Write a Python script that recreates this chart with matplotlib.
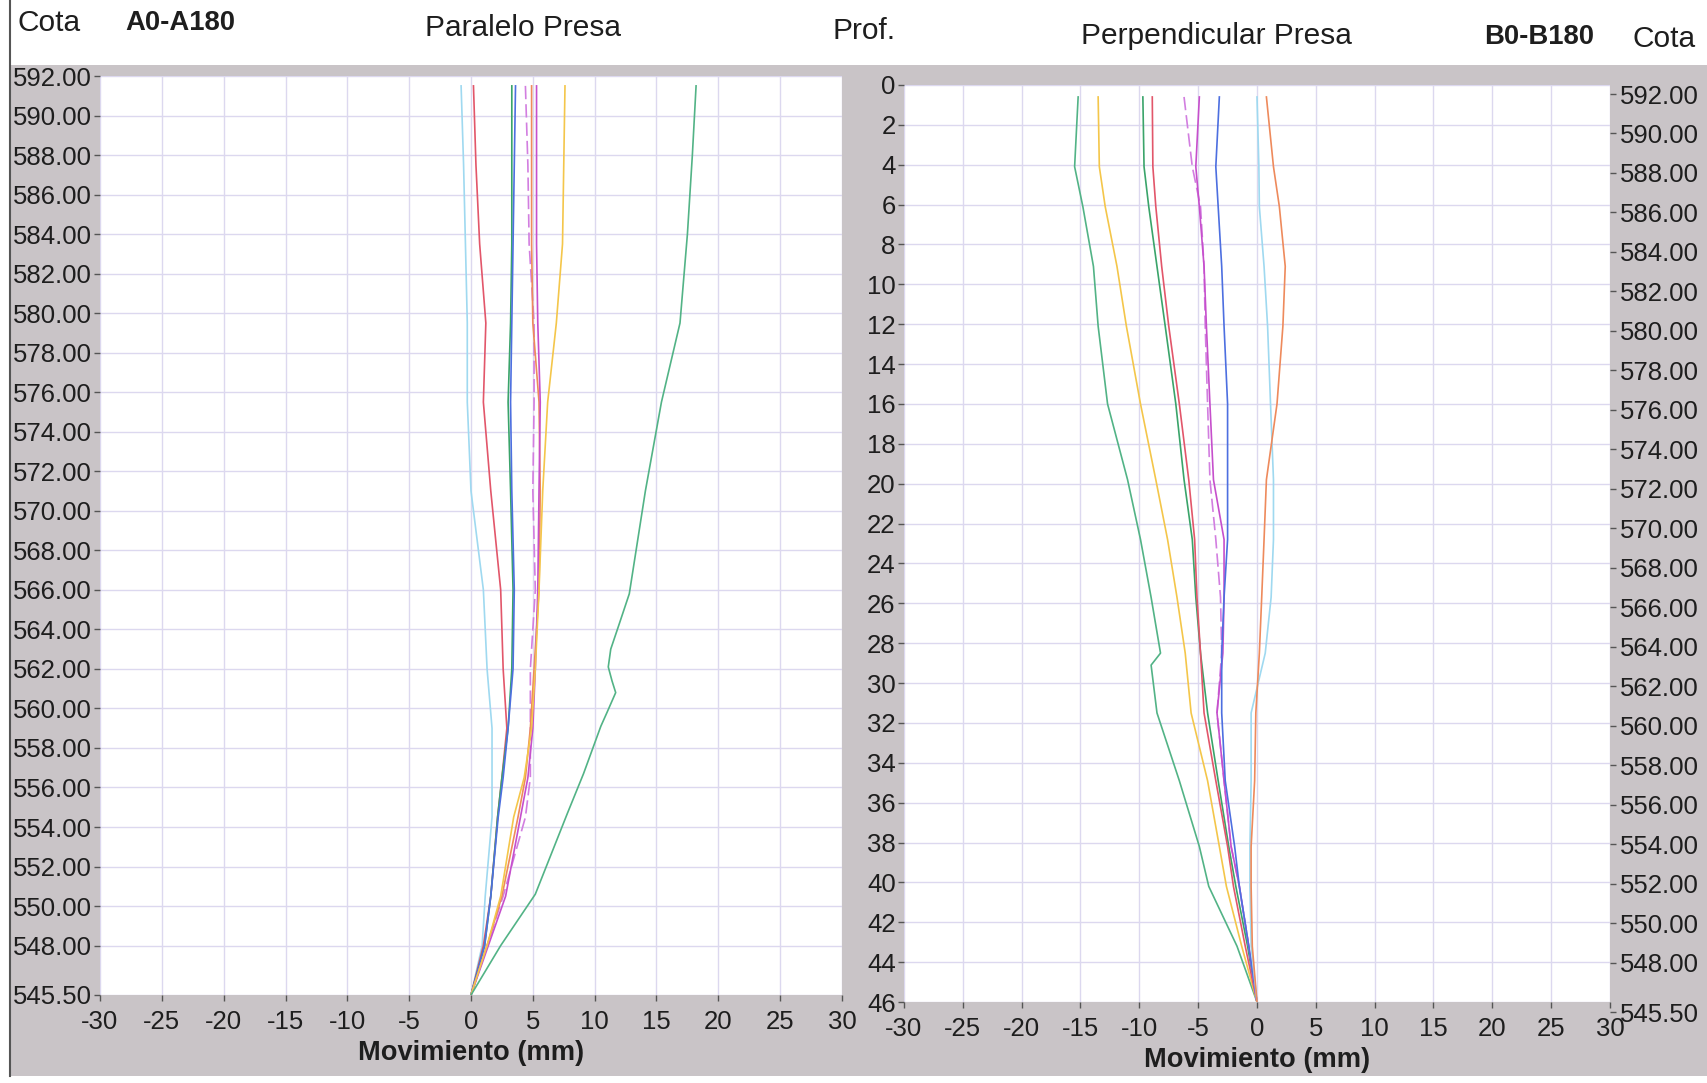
import matplotlib
matplotlib.use("Agg")
import matplotlib.pyplot as plt
from matplotlib import font_manager
from matplotlib.patches import Rectangle

# ---- data ----
# Paralelo Presa (A0-A180): movement in mm at each elevation (cota)
a_cota = [591.5, 587.5, 583.5, 579.5, 575.5, 571.0, 566.0, 562.0, 559.0, 556.5, 554.5, 550.5, 548.0, 545.5]
a_cyan = [-0.8, -0.6, -0.45, -0.3, -0.3, 0.0, 1.0, 1.3, 1.7, 1.7, 1.7, 1.15, 0.9, 0.0]
a_red = [0.2, 0.4, 0.7, 1.2, 1.0, 1.6, 2.4, 2.6, 2.9, 2.5, 2.15, 1.6, 1.0, 0.0]
a_green = [3.3, 3.3, 3.3, 3.2, 3.0, 3.2, 3.4, 3.3, 3.0, 2.5, 2.15, 1.6, 1.1, 0.0]
a_blue = [3.6, 3.5, 3.4, 3.3, 3.2, 3.3, 3.5, 3.4, 3.0, 2.6, 2.2, 1.6, 1.1, 0.0]
a_magdash = [4.4, 4.6, 4.7, 5.1, 5.1, 5.0, 5.2, 4.8, 4.8, 4.8, 4.4, 2.6, 1.3, 0.0]
a_orange = [4.9, 4.9, 4.9, 5.0, 5.5, 5.6, 5.5, 5.1, 4.8, 4.4, 3.8, 2.5, 1.3, 0.0]
a_magenta = [5.3, 5.3, 5.3, 5.4, 5.6, 5.5, 5.4, 5.2, 5.0, 4.6, 4.0, 2.8, 1.4, 0.0]
a_yellow = [7.6, 7.5, 7.4, 6.9, 6.2, 5.8, 5.5, 5.2, 4.9, 4.3, 3.45, 2.4, 1.3, 0.0]
a_sea_cota = [591.5, 588.0, 584.0, 579.5, 575.5, 571.0, 565.8, 564.3, 563.0, 562.1, 561.4,
              560.8, 559.8, 559.1, 556.7, 554.7, 550.6, 548.0, 545.5]
a_sea = [18.2, 17.9, 17.5, 16.9, 15.4, 14.1, 12.8, 12.0, 11.3, 11.1, 11.4,
         11.7, 11.0, 10.5, 9.1, 7.8, 5.2, 2.4, 0.0]

# Perpendicular Presa (B0-B180): movement in mm at each depth (prof)
b_prof = [0.6, 4.1, 6.1, 9.1, 12.1, 16.0, 19.8, 22.8, 25.7, 28.5, 31.5, 34.9, 38.2, 40.2, 43.2, 46.0]
b_yellow = [-13.5, -13.4, -12.9, -11.9, -11.1, -9.9, -8.6, -7.6, -6.8, -6.1, -5.6, -4.2, -3.2, -2.6, -1.3, 0.0]
b_green = [-9.7, -9.6, -9.2, -8.5, -7.8, -6.9, -6.2, -5.5, -5.2, -4.8, -4.2, -3.3, -2.4, -1.8, -0.8, 0.0]
b_red = [-8.9, -8.85, -8.6, -8.1, -7.5, -6.6, -5.8, -5.3, -5.1, -4.8, -4.5, -3.5, -2.5, -2.0, -1.0, 0.0]
b_magdash = [-6.2, -5.5, -4.8, -4.5, -4.4, -4.2, -4.0, -3.5, -3.1, -3.0, -3.4, -2.8, -2.2, -1.5, -0.7, 0.0]
b_magenta = [-4.9, -5.2, -4.9, -4.5, -4.3, -4.0, -3.7, -2.8, -2.8, -2.9, -3.4, -2.8, -2.2, -1.5, -0.7, 0.0]
b_blue = [-3.2, -3.5, -3.3, -3.0, -2.8, -2.5, -2.5, -2.5, -2.8, -3.0, -3.0, -2.7, -1.9, -1.5, -0.7, 0.0]
b_cyan = [0.0, 0.16, 0.2, 0.6, 0.9, 1.15, 1.4, 1.4, 1.2, 0.7, -0.5, -0.5, -0.6, -0.6, -0.5, 0.0]
b_orange = [0.8, 1.4, 1.9, 2.4, 2.2, 1.7, 0.8, 0.6, 0.4, 0.2, -0.1, -0.2, -0.5, -0.5, -0.4, 0.0]
b_sea_prof = [0.6, 4.1, 6.1, 9.1, 12.1, 16.0, 19.8, 22.8, 25.7, 28.5, 29.1, 31.5, 34.9, 38.2, 40.2, 43.2, 46.0]
b_sea = [-15.2, -15.5, -14.8, -13.9, -13.5, -12.7, -11.0, -9.9, -9.0, -8.2, -9.0, -8.5, -6.6, -4.9, -4.1, -1.7, 0.0]

x_ticks = list(range(-30, 31, 5))
cota_ticks = [592 - 2 * i for i in range(23)] + [545.5]
prof_ticks = list(range(0, 47, 2))

# colours of the series
c_cyan = "#9fd9f0"
c_red = "#e2566a"
c_green = "#3aa46a"
c_blue = "#4d6fe0"
c_mag = "#c64fcc"
c_magdash = "#d27ee0"
c_orange = "#ee8a5c"
c_yellow = "#f4c64a"
c_sea = "#52b386"

GRAY = "#c9c4c7"
GRID = "#dcd8ef"
TXT = "#1e1e1e"
W, H = 1708, 1083

# a narrow face is closest to the original; fall back to Liberation Sans at a smaller size
installed = {f.name for f in font_manager.fontManager.ttflist}
if "Liberation Sans Narrow" in installed:
    plt.rcParams['font.family'] = ['Liberation Sans Narrow', 'DejaVu Sans']
    TICK_FS, HEAD_FS, LAB_FS, CODE_FS = 22, 23, 23, 22
else:
    plt.rcParams['font.family'] = ['Liberation Sans', 'DejaVu Sans']
    TICK_FS, HEAD_FS, LAB_FS, CODE_FS = 18.5, 21.5, 19.6, 19.8


def box(l, t, r, b):
    # pixel box (from top-left) -> figure fraction
    return [l / W, 1 - b / H, (r - l) / W, (b - t) / H]


def style(ax):
    ax.set_facecolor("white")
    for s in ax.spines.values():
        s.set_visible(False)
    ax.set_xlim(-30, 30)
    ax.set_xticks(x_ticks)
    ax.set_xticklabels([str(v) for v in x_ticks])
    ax.grid(True, color=GRID, lw=1.0)
    ax.set_axisbelow(True)
    ax.tick_params(axis="both", direction="out", length=4, width=1, color="#555555",
                   labelsize=TICK_FS, labelcolor=TXT)
    ax.tick_params(axis="x", pad=7)
    ax.tick_params(axis="y", pad=2)
    ax.set_xlabel("Movimiento (mm)", fontsize=LAB_FS, fontweight="bold", color=TXT, labelpad=4)


fig = plt.figure(figsize=(W / 100, H / 100), dpi=100)
fig.patch.set_facecolor("white")
fig.patches.append(Rectangle((10 / W, 7 / H), 1 - 10 / W, (1076 - 65) / H, transform=fig.transFigure,
                             facecolor=GRAY, edgecolor="none", zorder=-10))
fig.lines.append(plt.Line2D([10 / W, 10 / W], [7 / H, 1], transform=fig.transFigure,
                            color="#555555", lw=1.5, zorder=-5))

# ---- left panel: Paralelo Presa ----
ax1 = fig.add_axes(box(100, 76, 842, 995))
style(ax1)
ax1.set_ylim(545.5, 592)
ax1.set_yticks(cota_ticks)
ax1.set_yticklabels([f"{v:.2f}" for v in cota_ticks])
lw = 1.2
ax1.plot(a_cyan, a_cota, color=c_cyan, lw=lw)
ax1.plot(a_red, a_cota, color=c_red, lw=lw)
ax1.plot(a_green, a_cota, color=c_green, lw=lw)
ax1.plot(a_blue, a_cota, color=c_blue, lw=lw)
ax1.plot(a_magdash, a_cota, color=c_magdash, lw=lw, ls=(0, (8, 3)))
ax1.plot(a_orange, a_cota, color=c_orange, lw=lw)
ax1.plot(a_magenta, a_cota, color=c_mag, lw=lw)
ax1.plot(a_yellow, a_cota, color=c_yellow, lw=lw)
ax1.plot(a_sea, a_sea_cota, color=c_sea, lw=lw)

# ---- right panel: Perpendicular Presa ----
ax2 = fig.add_axes(box(904, 85, 1610, 1002))
style(ax2)
ax2.set_ylim(46, 0)
ax2.set_yticks(prof_ticks)
ax2.set_yticklabels([str(v) for v in prof_ticks])
ax2.plot(b_sea, b_sea_prof, color=c_sea, lw=lw)
ax2.plot(b_yellow, b_prof, color=c_yellow, lw=lw)
ax2.plot(b_green, b_prof, color=c_green, lw=lw)
ax2.plot(b_red, b_prof, color=c_red, lw=lw)
ax2.plot(b_magdash, b_prof, color=c_magdash, lw=lw, ls=(0, (8, 3)))
ax2.plot(b_magenta, b_prof, color=c_mag, lw=lw)
ax2.plot(b_blue, b_prof, color=c_blue, lw=lw)
ax2.plot(b_cyan, b_prof, color=c_cyan, lw=lw)
ax2.plot(b_orange, b_prof, color=c_orange, lw=lw)

# cota scale on the right side of the second panel
ax3 = fig.add_axes(box(904, 94, 1610, 1012))
ax3.patch.set_visible(False)
for s in ax3.spines.values():
    s.set_visible(False)
ax3.set_xticks([])
ax3.set_ylim(545.5, 592)
ax3.set_yticks(cota_ticks)
ax3.set_yticklabels([f"{v:.2f}" for v in cota_ticks])
ax3.tick_params(axis="y", left=False, labelleft=False, right=True, labelright=True,
                direction="out", length=4, width=1, color="#555555",
                labelsize=TICK_FS, labelcolor=TXT, pad=3)

# ---- header texts ----
def head(x, y, s, bold=False):
    fig.text(x / W, 1 - y / H, s, ha="center", va="center", color=TXT,
             fontsize=CODE_FS if bold else HEAD_FS,
             fontweight="bold" if bold else "normal")


head(49, 23, "Cota")
head(180, 23, "A0-A180", True)
head(523, 28, "Paralelo Presa")
head(864, 31, "Prof.")
head(1216, 36, "Perpendicular Presa")
head(1539, 37, "B0-B180", True)
head(1664, 39, "Cota")

fig.savefig("out.png", dpi=100, facecolor=fig.get_facecolor())
